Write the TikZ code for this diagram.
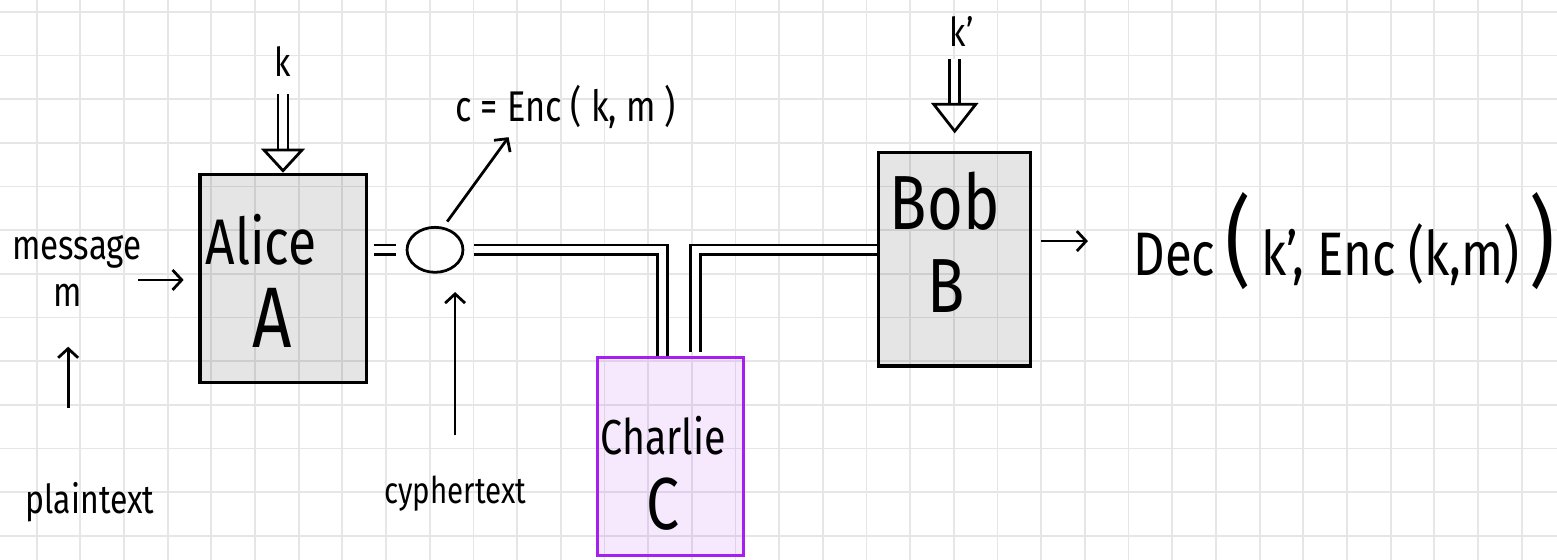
\documentclass[tikz,border=0pt]{standalone}
\usepackage{fontspec}
\setmainfont{Fira Sans}[FakeStretch=0.8]
\usetikzlibrary{arrows.meta,shapes.geometric}

\definecolor{gridgray}{RGB}{230,230,230}
\definecolor{evilviolet}{RGB}{165,32,240}

\newcommand{\handsize}[1]{\fontsize{#1}{#1}\selectfont}

\tikzset{
  gridline/.style={gridgray, line width=1.2pt},
  party/.style={draw, line width=2pt, fill=black, fill opacity=0.1, text opacity=1},
  snoop/.style={party, draw=evilviolet, fill=evilviolet},
  wire/.style={line width=1.8pt, double, double distance=4.6pt},
  arr/.style={line width=1.8pt, -{Straight Barb[length=6pt,width=13pt]}},
  keyin/.style={line width=1.8pt, double, double distance=4.6pt,
    -{Triangle[open,length=0.55cm,width=1cm]}},
}

\begin{document}
\begin{tikzpicture}
  \useasboundingbox (-0.84,-0.552) rectangle (34.81,12.27);
  \draw[gridline] (-0.84,-0.552) grid (34.81,12.27);

  % the three parties and the encrypted message
  \node[party, minimum width=3.82cm, minimum height=4.76cm] (alice) at (5.65,5.90) {};
  \node[party, minimum width=3.48cm, minimum height=4.88cm] (bob) at (21.02,6.33) {};
  \node[snoop, minimum width=3.34cm, minimum height=4.53cm] (charlie) at (14.52,1.81) {};
  \node[draw, ellipse, line width=1.8pt, minimum width=1.28cm, minimum height=1.03cm] (cipher) at (9.12,6.55) {};

  \begin{scope}[every node/.style={inner sep=1pt}]
    \draw
      (5.14,6.78) node[font=\handsize{42}] (aname) {Alice}
      (5.39,4.99) node[font=\handsize{56}] (aletter) {A}
      (20.79,7.67) node[font=\handsize{50}] (bname) {Bob}
      (20.82,5.72) node[font=\handsize{50}] (bletter) {B}
      (14.34,2.29) node[font=\handsize{32}] (cname) {Charlie}
      (14.34,0.73) node[font=\handsize{48}] (cletter) {C}
      (5.64,10.85) node[font=\handsize{26}] (ka) {k}
      (21.18,11.54) node[font=\handsize{26}] (kb) {k'}
      (0.92,6.50) node[font=\handsize{27}] (msg) {message}
      (0.72,5.51) node[font=\handsize{27}] (m) {m}
      (1.22,0.78) node[font=\handsize{26}] (plain) {plaintext}
      (9.58,0.97) node[font=\handsize{24}] (cyph) {cyphertext}
      (12.11,9.83) node[font=\handsize{28}] (enc) {c = Enc ( k, m )}
      (25.07,6.75) node[anchor=west, font=\handsize{40}] (dec)
        {Dec\,{\handsize{64}(}\,k', Enc (k,m)\,{\handsize{64})}};
  \end{scope}

  \coordinate (msgout) at (2.32,5.86);

  % channel
  \draw[wire, shorten <=0.12cm, shorten >=0.23cm] (alice.east |- cipher.west) -- (cipher.west);
  \draw[wire, shorten <=0.23cm] (cipher.east) -| ([xshift=-0.19cm]charlie.north);
  \draw[wire, shorten <=0.1cm] ([xshift=0.56cm]charlie.north) |- (bob.west |- cipher.east);

  % keys
  \draw[keyin, shorten <=0.35cm] (ka) -- (ka |- alice.north);
  \draw[keyin, shorten <=0.23cm, shorten >=0.41cm, -{Triangle[open,length=0.7cm,width=1.08cm]}]
    (bob.north |- kb.south) -- (bob.north);

  % plain arrows
  \draw[arr, shorten >=0.34cm] (msgout) -- (alice.west |- msgout);
  \draw[arr, shorten <=1.66cm, shorten >=0.88cm] (m.south |- plain.north) -- (m.south);
  \draw[arr, shorten <=0.89cm, shorten >=0.42cm] (cyph.north) -- (cyph.north |- cipher.south);
  \draw[arr, shorten <=0.15cm, shorten >=0.2cm] (cipher.70) -- ([xshift=1.38cm]enc.south west);
  \draw[arr, shorten <=0.21cm, shorten >=1.0cm] (bob.east |- dec.west) -- (dec.west);
\end{tikzpicture}
\end{document}
